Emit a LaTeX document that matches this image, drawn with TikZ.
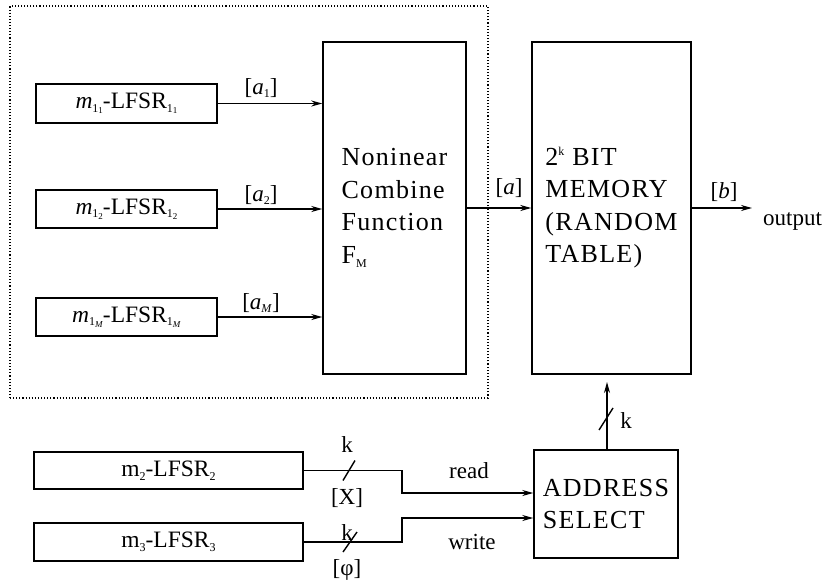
\documentclass[tikz,border=0pt]{standalone}
\usepackage{fontspec}
\setmainfont{Liberation Serif}
\usetikzlibrary{arrows.meta,calc}

% small lowered / raised indices in text mode
\newcommand\sbs[1]{\raisebox{-0.35ex}{\fontsize{12}{12}\selectfont #1}}
\newcommand\ssbs[1]{\raisebox{-0.25ex}{\fontsize{9}{9}\selectfont #1}}
\newcommand\sps[1]{\raisebox{0.8ex}{\fontsize{12}{12}\selectfont #1}}

\begin{document}
\begin{tikzpicture}[x=1pt,y=-1pt,
  font=\fontsize{23}{32.5}\selectfont,
  blk/.style={draw, line width=1.5pt, inner sep=0pt, align=left,
    font=\fontsize{23.5}{32.5}\selectfont},
  widetext/.style={font=\fontsize{26}{32.5}\selectfont\addfontfeatures{LetterSpace=5}},
  lbl/.style={inner sep=0pt},
  conn/.style={line width=1.4pt},
  arr/.style={conn, -{Stealth[length=11pt,width=6pt]}},
  grp/.style={draw, dotted, line width=1.1pt, inner sep=0pt},
  bus/.style={line width=1.4pt}
]
\useasboundingbox (0,0) rectangle (826,586);

% dotted group around the combiner part
\node[grp, minimum width=478pt, minimum height=392pt] (grp) at (249,202) {};

% top LFSRs
\node[blk, minimum width=181pt, minimum height=39pt] (b1) at (126.5,103.5)
  {\textit{m}\sbs{1\ssbs{1}}-LFSR\sbs{1\ssbs{1}}};
\node[blk, minimum width=181pt, minimum height=38pt] (b2) at (126.5,209)
  {\textit{m}\sbs{1\ssbs{2}}-LFSR\sbs{1\ssbs{2}}};
\node[blk, minimum width=181pt, minimum height=38pt] (b3) at (126.5,317)
  {\textit{m}\sbs{1\ssbs{\textit{M}}}-LFSR\sbs{1\ssbs{\textit{M}}}};

% combiner and memory
\node[blk, widetext, minimum width=143pt, minimum height=332pt] (F) at (394.5,208)
  {Noninear\\Combine\\Function\\F\sbs{M}};
\node[blk, widetext, minimum width=159pt, minimum height=332pt] (Mem) at (611.5,208)
  {2\sps{k} BIT\\MEMORY\\(RANDOM\\TABLE)};

% lower LFSRs and address select
\node[blk, minimum width=269pt, minimum height=37pt] (L2) at (168.5,470.5)
  {m\sbs{2}-LFSR\sbs{2}};
\node[blk, minimum width=269pt, minimum height=38pt] (L3) at (168.5,542)
  {m\sbs{3}-LFSR\sbs{3}};
\node[blk, widetext, minimum width=144pt, minimum height=108pt] (Addr) at (606,504)
  {ADDRESS\\SELECT};

% sequences into the combiner
\draw[arr] (b1.east) -- (b1.east -| F.west);
\draw[arr] (b2.east) -- (b2.east -| F.west);
\draw[arr] (b3.east) -- (b3.east -| F.west);
\node[lbl] (la1) at (261,88) {[\textit{a}\sbs{1}]};
\node[lbl] (la2) at (261,195) {[\textit{a}\sbs{2}]};
\node[lbl] (laM) at (261,303) {[\textit{a}\sbs{\textit{M}}]};

% combiner -> memory -> output
\draw[arr] (F.east) -- (Mem.west);
\node[lbl] (la) at (509,188) {[\textit{a}]};
\coordinate (outend) at (752,208);
\draw[arr] (Mem.east) -- (outend);
\node[lbl] (lb) at (724,192) {[\textit{b}]};
\node[lbl, anchor=west] (out) at (763,221) {output};

% read / write paths
\coordinate (rd) at (402,493);
\coordinate (wr) at (402,518);
\draw[arr] (L2.east) -| (rd) -- (rd -| Addr.west);
\draw[arr] (L3.east) -| (wr) -- (wr -| Addr.west);
\node[lbl] (lread) at (469,471) {read};
\node[lbl] (lwrite) at (472,542) {write};

% k-bit bus marks
\coordinate (s1) at (349,470.5);
\coordinate (s2) at (350,542);
\draw[bus] ($(s1)+(-6,10)$) -- ($(s1)+(6,-10)$);
\draw[bus] ($(s2)+(-7,10)$) -- ($(s2)+(7,-10)$);
\node[lbl] (k1) at (347,445) {k};
\node[lbl] (lX) at (347,498) {[X]};
\node[lbl] (k2) at (347,533) {k};
\node[lbl] (lphi) at (347,570) {[φ]};

% address -> memory
\coordinate (kend) at (607,382);
\draw[arr] (Addr.north -| kend) -- (kend);
\coordinate (s3) at (606,419);
\draw[bus] ($(s3)+(-7,11)$) -- ($(s3)+(7,-11)$);
\node[lbl] (k3) at (626,421) {k};
\end{tikzpicture}
\end{document}
